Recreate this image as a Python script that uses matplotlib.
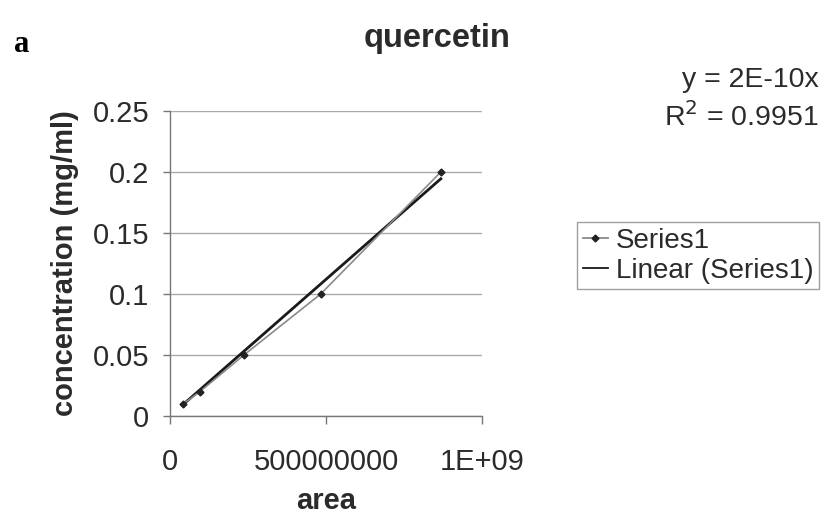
import numpy as np
import matplotlib.pyplot as plt

plt.rcParams['font.family'] = ['Liberation Sans', 'DejaVu Sans']

area = [4.3e7, 9.6e7, 2.37e8, 4.83e8, 8.68e8]
conc = [0.01, 0.02, 0.05, 0.10, 0.20]
x_ticks = [0, 5e8, 1e9]
x_tick_labels = ['0', '500000000', '1E+09']
y_ticks = [0, 0.05, 0.1, 0.15, 0.2, 0.25]
y_tick_labels = ['0', '0.05', '0.1', '0.15', '0.2', '0.25']
eq_text = 'y = 2E-10x'
r2_text = 'R$^2$ = 0.9951'

x = np.array(area)
y = np.array(conc)
# linear trend forced through the origin
slope = np.sum(x * y) / np.sum(x * x)
fit = slope * x

txt = '#2b2b2b'
fig = plt.figure(figsize=(8.23, 5.14), dpi=100)
ax = fig.add_axes([170 / 823, 98 / 514, 312 / 823, 305 / 514])

ax.plot(x, y, color='#8a8a8a', lw=1.2, marker='D', ms=3.5,
        mfc='#222222', mec='#222222', label='Series1', zorder=3)
ax.plot([x[0], x[-1]], [fit[0], fit[-1]], color='#1a1a1a', lw=2.0,
        label='Linear (Series1)', zorder=2)

ax.set_xlim(0, 1e9)
ax.set_ylim(0, 0.25)
ax.set_xticks(x_ticks)
ax.set_xticklabels(x_tick_labels)
ax.set_yticks(y_ticks)
ax.set_yticklabels(y_tick_labels)
ax.tick_params(axis='x', length=6, width=1, color='#777777', pad=17,
               labelsize=21, labelcolor=txt)
ax.tick_params(axis='y', length=5, width=1, color='#777777', pad=10,
               labelsize=21, labelcolor=txt)
ax.yaxis.grid(True, color='#aaaaaa', lw=1)
ax.set_axisbelow(True)
for s in ['top', 'right']:
    ax.spines[s].set_visible(False)
for s in ['left', 'bottom']:
    ax.spines[s].set_color('#777777')
    ax.spines[s].set_linewidth(1)

ax.set_xlabel('area', fontsize=21, fontweight='bold', color=txt, labelpad=8)
ax.set_ylabel('concentration (mg/ml)', fontsize=21, fontweight='bold',
              color=txt, labelpad=10)

fig.text(437 / 823, 1 - 38 / 514, 'quercetin', fontsize=23.5, fontweight='bold',
         color=txt, ha='center', va='center')
fig.text(14 / 823, 1 - 45 / 514, 'a', fontsize=22, fontweight='bold',
         family='Liberation Serif', ha='left', va='center')
fig.text(819 / 823, 1 - 80 / 514, eq_text, fontsize=20.5,
         color=txt, ha='right', va='center')
fig.text(819 / 823, 1 - 117 / 514, r2_text, fontsize=20.5,
         color=txt, ha='right', va='center')

leg = ax.legend(loc='upper left', bbox_to_anchor=(577 / 823, 1 - 222 / 514),
                bbox_transform=fig.transFigure, fontsize=20, frameon=True,
                fancybox=False, handlelength=0.9, handletextpad=0.3,
                borderpad=0.2, labelspacing=0.15, borderaxespad=0)
leg.get_frame().set_edgecolor('#888888')
leg.get_frame().set_linewidth(1)
for t in leg.get_texts():
    t.set_color(txt)
for h in leg.get_lines():
    h.set_linewidth(1.3)

fig.savefig('out.png', dpi=100)
